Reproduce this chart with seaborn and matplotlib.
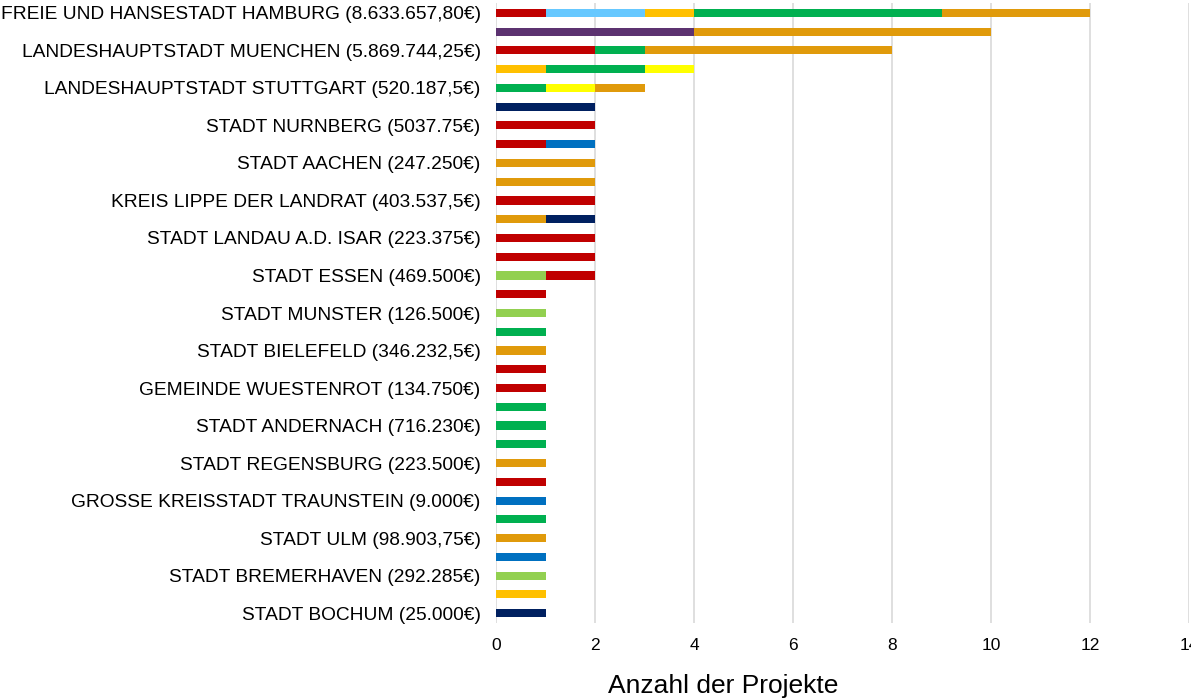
import numpy as np
import pandas as pd
import matplotlib
matplotlib.use("Agg")
import matplotlib.pyplot as plt
import seaborn as sns

# row labels, top to bottom (only every other row carries a label)
row_labels = [
    "FREIE UND HANSESTADT HAMBURG (8.633.657,80€)", "",
    "LANDESHAUPTSTADT MUENCHEN (5.869.744,25€)", "",
    "LANDESHAUPTSTADT STUTTGART (520.187,5€)", "",
    "STADT NURNBERG (5037.75€)", "",
    "STADT AACHEN (247.250€)", "",
    "KREIS LIPPE DER LANDRAT (403.537,5€)", "",
    "STADT LANDAU A.D. ISAR (223.375€)", "",
    "STADT ESSEN (469.500€)", "",
    "STADT MUNSTER (126.500€)", "",
    "STADT BIELEFELD (346.232,5€)", "",
    "GEMEINDE WUESTENROT (134.750€)", "",
    "STADT ANDERNACH (716.230€)", "",
    "STADT REGENSBURG (223.500€)", "",
    "GROSSE KREISSTADT TRAUNSTEIN (9.000€)", "",
    "STADT ULM (98.903,75€)", "",
    "STADT BREMERHAVEN (292.285€)", "",
    "STADT BOCHUM (25.000€)",
]

# project counts per colour category, one value per row
hellgruen = [0, 0, 0, 0, 0, 0, 0, 0, 0, 0, 0, 0, 0, 0, 1, 0, 1, 0, 0, 0, 0, 0, 0, 0, 0, 0, 0, 0, 0, 0, 1, 0, 0]
rot       = [1, 0, 2, 0, 0, 0, 2, 1, 0, 0, 2, 0, 2, 2, 1, 1, 0, 0, 0, 1, 1, 0, 0, 0, 0, 1, 0, 0, 0, 0, 0, 0, 0]
hellblau  = [2, 0, 0, 0, 0, 0, 0, 0, 0, 0, 0, 0, 0, 0, 0, 0, 0, 0, 0, 0, 0, 0, 0, 0, 0, 0, 0, 0, 0, 0, 0, 0, 0]
lila      = [0, 4, 0, 0, 0, 0, 0, 0, 0, 0, 0, 0, 0, 0, 0, 0, 0, 0, 0, 0, 0, 0, 0, 0, 0, 0, 0, 0, 0, 0, 0, 0, 0]
blau      = [0, 0, 0, 0, 0, 0, 0, 1, 0, 0, 0, 0, 0, 0, 0, 0, 0, 0, 0, 0, 0, 0, 0, 0, 0, 0, 1, 0, 0, 1, 0, 0, 0]
gold      = [1, 0, 0, 1, 0, 0, 0, 0, 0, 0, 0, 0, 0, 0, 0, 0, 0, 0, 0, 0, 0, 0, 0, 0, 0, 0, 0, 0, 0, 0, 0, 1, 0]
gruen     = [5, 0, 1, 2, 1, 0, 0, 0, 0, 0, 0, 0, 0, 0, 0, 0, 0, 1, 0, 0, 0, 1, 1, 1, 0, 0, 0, 1, 0, 0, 0, 0, 0]
gelb      = [0, 0, 0, 1, 1, 0, 0, 0, 0, 0, 0, 0, 0, 0, 0, 0, 0, 0, 0, 0, 0, 0, 0, 0, 0, 0, 0, 0, 0, 0, 0, 0, 0]
orange    = [3, 6, 5, 0, 1, 0, 0, 0, 2, 2, 0, 1, 0, 0, 0, 0, 0, 0, 1, 0, 0, 0, 0, 0, 1, 0, 0, 0, 1, 0, 0, 0, 0]
navy      = [0, 0, 0, 0, 0, 2, 0, 0, 0, 0, 0, 1, 0, 0, 0, 0, 0, 0, 0, 0, 0, 0, 0, 0, 0, 0, 0, 0, 0, 0, 0, 0, 1]

# stacking order, from the axis outward
series = {
    "hellgruen": hellgruen, "rot": rot, "hellblau": hellblau, "lila": lila,
    "blau": blau, "gold": gold, "gruen": gruen, "gelb": gelb,
    "orange": orange, "navy": navy,
}
colors = {
    "hellgruen": "#92D050", "rot": "#C00000", "hellblau": "#66C8FF",
    "lila": "#5C3270", "blau": "#0070C0", "gold": "#FFC000",
    "gruen": "#00B050", "gelb": "#FFFF00", "orange": "#E09A0B",
    "navy": "#002060",
}

rows = []
for name, vals in series.items():
    for i, v in enumerate(vals):
        if v > 0:
            rows.append({"row": i, "kategorie": name, "anzahl": v})
df = pd.DataFrame(rows)

sns.set_theme(style="white")
plt.rcParams["font.family"] = ["Liberation Sans", "DejaVu Sans"]

fig = plt.figure(figsize=(11.91, 6.99), dpi=100)
ax = fig.add_axes([496 / 1191, 1 - 623 / 699, 693 / 1191, 620 / 699])

# seaborn stacks the last hue level at the baseline
sns.histplot(data=df, y="row", weights="anzahl", hue="kategorie",
             hue_order=list(series)[::-1], palette=colors,
             multiple="stack", discrete=True, shrink=0.43,
             alpha=1, linewidth=0, legend=False, ax=ax)

ax.set_xlim(0, 14)
ax.set_xticks(np.arange(0, 15, 2))
ax.set_ylim(len(row_labels) - 0.47, -0.53)
ax.set_yticks(range(len(row_labels)))
ax.set_yticklabels(row_labels)
ax.grid(axis="x", color="#D9D9D9", linewidth=1.2)
ax.set_axisbelow(True)
for s in ax.spines.values():
    s.set_visible(False)
ax.tick_params(axis="both", length=0, colors="black")
ax.tick_params(axis="y", pad=11, labelsize=13.8)
ax.tick_params(axis="x", pad=11, labelsize=12.5)
ax.set_xlabel("")
ax.set_ylabel("")

fig.text(723 / 1191, 1 - 686 / 699, "Anzahl der Projekte",
         ha="center", va="center", fontsize=19, color="black")

fig.savefig("out.png", dpi=100)
